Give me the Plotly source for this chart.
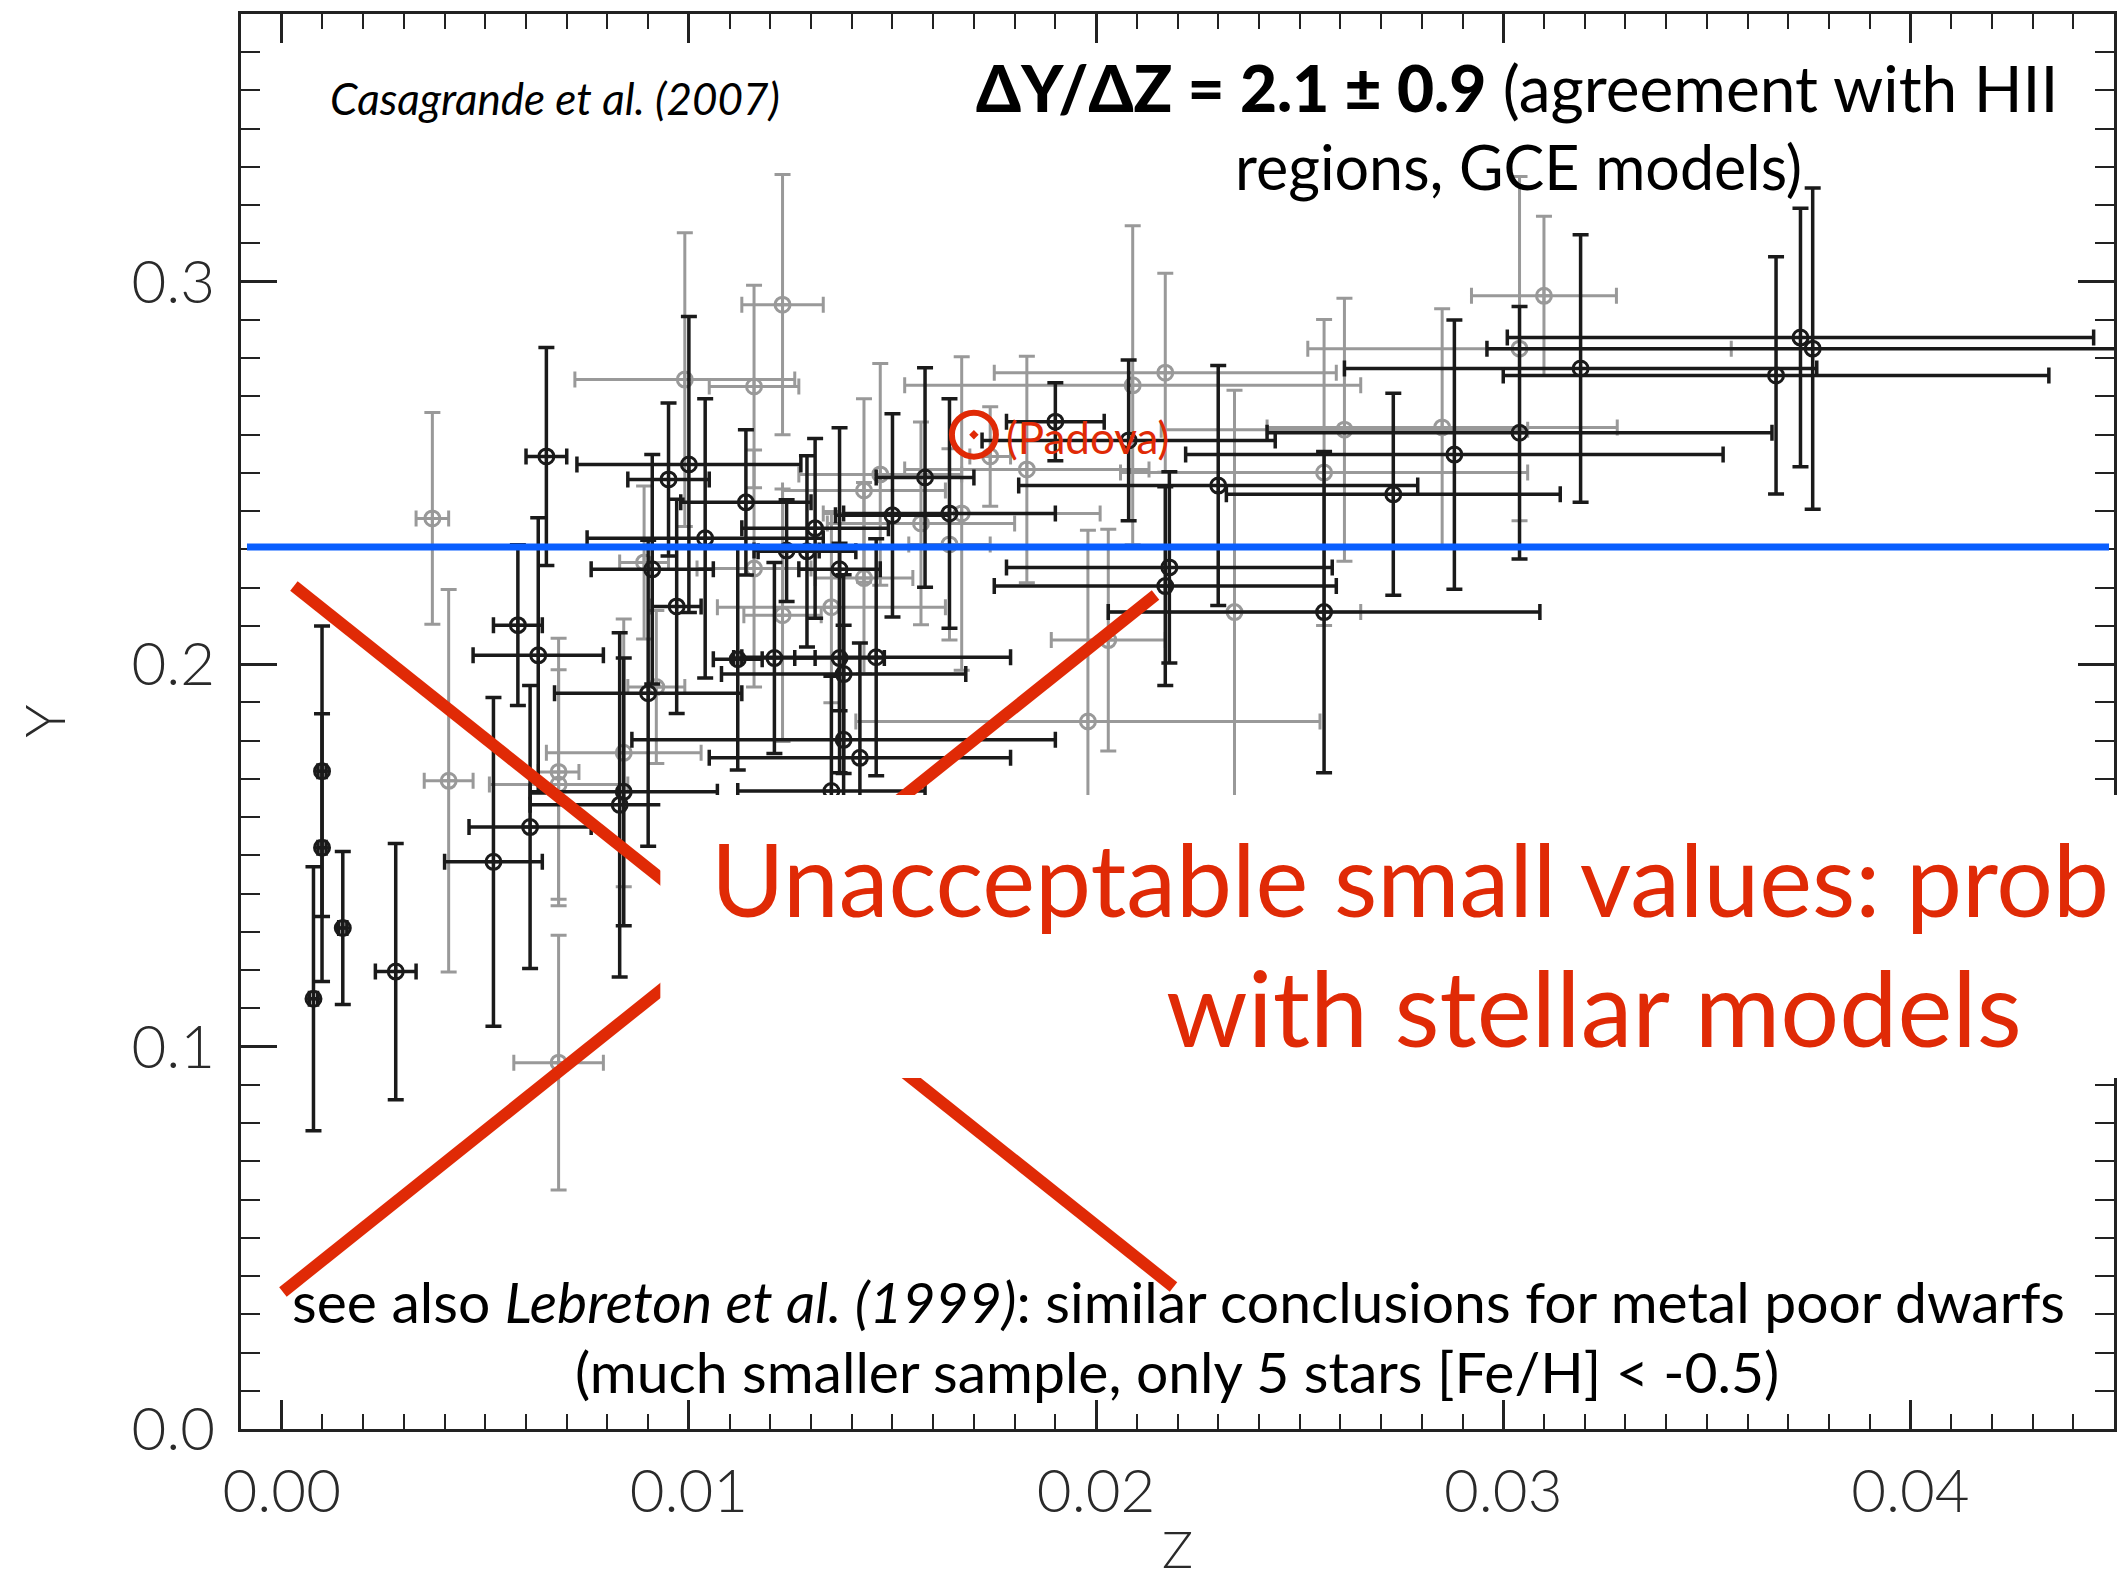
import plotly.graph_objects as go

# ---------------- data: helium abundance Y versus metallicity Z ----------------
# first sub-sample (black symbols)
black_z = [0.00078, 0.00099, 0.00099, 0.0015, 0.0028, 0.0052, 0.0061, 0.0063, 0.0065, 0.0058,
           0.0083, 0.0084, 0.0090, 0.0112, 0.0100, 0.0095, 0.0114, 0.0104, 0.0091, 0.0097,
           0.0121, 0.0131, 0.0129, 0.0124, 0.0150, 0.0158, 0.0164, 0.0190, 0.0208, 0.0230,
           0.0218, 0.0217, 0.0137, 0.0137, 0.0146, 0.0138, 0.0138, 0.0142, 0.0135, 0.0256,
           0.0273, 0.0288, 0.0304, 0.0319, 0.0367, 0.0373, 0.0376]
black_y = [0.1125, 0.172, 0.152, 0.131, 0.1196, 0.1483, 0.1574, 0.2023, 0.2543, 0.2102,
           0.1632, 0.1666, 0.1924, 0.2013, 0.2522, 0.2483, 0.2423, 0.2329, 0.2248, 0.2151,
           0.2016, 0.2355, 0.2295, 0.2297, 0.2389, 0.2488, 0.2394, 0.2634, 0.2585, 0.2467,
           0.2253, 0.2204, 0.2248, 0.2016, 0.2018, 0.1974, 0.1802, 0.1755, 0.1668, 0.2136,
           0.2444, 0.2548, 0.2605, 0.2773, 0.2755, 0.2854, 0.2825]
black_dz = [0.0001, 0.0001, 0.0001, 0.0001, 0.0005, 0.0012, 0.0015, 0.0016, 0.0005, 0.0006,
            0.0022, 0.0023, 0.0023, 0.0006, 0.00275, 0.0010, 0.0016, 0.0029, 0.0015, 0.0006,
            0.0010, 0.0018, 0.0012, 0.0008, 0.0014, 0.0012, 0.0026, 0.0012, 0.0036, 0.0049,
            0.0040, 0.0042, 0.0010, 0.0011, 0.0033, 0.0030, 0.0052, 0.0037, 0.0023, 0.0053,
            0.0041, 0.0066, 0.0062, 0.0058, 0.0067, 0.0072, 0.0080]
black_dy = [0.0345, 0.038, 0.035, 0.020, 0.0335, 0.043, 0.037, 0.036, 0.0285, 0.021,
            0.045, 0.035, 0.040, 0.029, 0.0387, 0.020, 0.019, 0.0365, 0.030, 0.028,
            0.025, 0.0235, 0.025, 0.0133, 0.0266, 0.0287, 0.030, 0.0102, 0.021, 0.0314,
            0.025, 0.026, 0.037, 0.030, 0.031, 0.026, 0.030, 0.030, 0.030, 0.042,
            0.0264, 0.0352, 0.033, 0.035, 0.031, 0.0338, 0.042]

# second sub-sample (grey symbols)
grey_z = [0.0037, 0.0041, 0.0068, 0.0068, 0.0084, 0.0068, 0.0089, 0.0092, 0.0099, 0.0116,
          0.0123, 0.0116, 0.0123, 0.0135, 0.0143, 0.0143, 0.0147, 0.0157, 0.0167, 0.0174,
          0.0183, 0.0198, 0.0203, 0.0209, 0.0217, 0.0234, 0.0256, 0.0261, 0.0285, 0.0304,
          0.0310, 0.0164]
grey_y = [0.2381, 0.1695, 0.1718, 0.1685, 0.1768, 0.0958, 0.2266, 0.1940, 0.2744, 0.2726,
          0.2940, 0.2250, 0.2128, 0.2149, 0.2225, 0.2454, 0.2496, 0.2368, 0.2394, 0.2543,
          0.2509, 0.1850, 0.2063, 0.2729, 0.2762, 0.2136, 0.2501, 0.2613, 0.2619, 0.2825,
          0.2963, 0.2313]
grey_dz = [0.0004, 0.0006, 0.0005, 0.0017, 0.0019, 0.0011, 0.0006, 0.0007, 0.0027, 0.0011,
           0.0010, 0.0014, 0.00095, 0.0028, 0.0012, 0.0020, 0.0020, 0.0023, 0.0034, 0.0005,
           0.0030, 0.0057, 0.0014, 0.0056, 0.0042, 0.0031, 0.0050, 0.0045, 0.0043, 0.0052,
           0.00178, 0.0010]
grey_dy = [0.0277, 0.050, 0.035, 0.030, 0.035, 0.0333, 0.020, 0.020, 0.0384, 0.0265,
           0.034, 0.031, 0.033, 0.025, 0.025, 0.024, 0.029, 0.0265, 0.041, 0.013,
           0.0296, 0.050, 0.029, 0.0417, 0.026, 0.058, 0.040, 0.0344, 0.031, 0.045,
           0.0208, 0.025]

# solar calibration point (Padova models) and the primordial helium level
sun_z = 0.017
sun_y = 0.260
y_primordial = 0.2306

x_ticks = [0.00, 0.01, 0.02, 0.03, 0.04]
x_tick_labels = ["0.00", "0.01", "0.02", "0.03", "0.04"]
y_ticks = [0.0, 0.1, 0.2, 0.3]
y_tick_labels = ["0.0", "0.1", "0.2", "0.3"]

# ---------------- page geometry ----------------
W, H = 2120, 1580
ML, MR, MT, MB = 241, 3, 14, 151
PW, PH = W - ML - MR, H - MT - MB


def px(x):
    """pixel column -> paper x"""
    return (x - ML) / PW


def py(y):
    """pixel row -> paper y"""
    return (MT + PH - y) / PH


RED = "#E02A06"
BLUE = "#0A5FFF"
INK = "#1a1a1a"
GREY = "#999999"
TEXT_FONT = "Lato"
AXIS_FONT = dict(family=TEXT_FONT, size=60, color="#2a2a2a", weight=300)

fig = go.Figure()

fig.add_trace(go.Scatter(
    x=grey_z, y=grey_y, mode="markers",
    marker=dict(symbol="circle-cross-open", size=15, color=GREY, line=dict(width=3, color=GREY)),
    error_x=dict(type="data", array=grey_dz, color=GREY, thickness=3, width=8),
    error_y=dict(type="data", array=grey_dy, color=GREY, thickness=3, width=8),
    hoverinfo="skip", showlegend=False,
))
fig.add_trace(go.Scatter(
    x=black_z, y=black_y, mode="markers",
    marker=dict(symbol="circle-cross-open", size=15, color=INK, line=dict(width=3, color=INK)),
    error_x=dict(type="data", array=black_dz, color=INK, thickness=3.5, width=8),
    error_y=dict(type="data", array=black_dy, color=INK, thickness=3.5, width=8),
    hoverinfo="skip", showlegend=False,
))
fig.add_trace(go.Scatter(
    x=[sun_z], y=[sun_y], mode="markers",
    marker=dict(symbol="circle-open-dot", size=44, color=RED, line=dict(width=6, color=RED)),
    hoverinfo="skip", showlegend=False,
))

shapes = [
    # primordial helium level
    dict(type="line", xref="paper", yref="y", x0=px(247), x1=px(2112),
         y0=y_primordial, y1=y_primordial, line=dict(color=BLUE, width=7), layer="above"),
    # crossing red strokes
    dict(type="line", xref="paper", yref="paper", x0=px(294), y0=py(586), x1=px(1175), y1=py(1287),
         line=dict(color=RED, width=12), layer="above"),
    dict(type="line", xref="paper", yref="paper", x0=px(283), y0=py(1292), x1=px(1157), y1=py(595),
         line=dict(color=RED, width=12), layer="above"),
    # white panel behind the red statement
    dict(type="rect", xref="paper", yref="paper", x0=px(661), x1=px(2140), y0=py(1078), y1=py(795),
         fillcolor="white", line=dict(width=0), layer="above"),
]

annotations = [
    dict(text="<i>Casagrande et al. (2007)</i>", xref="paper", yref="paper",
         x=px(328), y=py(98), xanchor="left", yanchor="middle", showarrow=False,
         font=dict(family=TEXT_FONT, size=44, color="black")),
    dict(text="<span style=\"font-weight:900\">ΔY/ΔZ = 2.1 ± 0.9</span> (agreement with HII",
         xref="paper", yref="paper",
         x=px(1519), y=py(88), xanchor="center", yanchor="middle", showarrow=False,
         font=dict(family=TEXT_FONT, size=64, color="black")),
    dict(text="regions, GCE models)", xref="paper", yref="paper",
         x=px(1521), y=py(167), xanchor="center", yanchor="middle", showarrow=False,
         font=dict(family=TEXT_FONT, size=61, color="black")),
    dict(text="Unacceptable small values: prob", xref="paper", yref="paper",
         x=px(710), y=py(878), xanchor="left", yanchor="middle", showarrow=False,
         font=dict(family=TEXT_FONT, size=100, color=RED)),
    dict(text="with stellar models", xref="paper", yref="paper",
         x=px(1165), y=py(1006), xanchor="left", yanchor="middle", showarrow=False,
         font=dict(family=TEXT_FONT, size=104, color=RED)),
    dict(text="see also <i>Lebreton et al. (1999)</i>: similar conclusions for metal poor dwarfs",
         xref="paper", yref="paper", x=px(1180), y=py(1301), xanchor="center", yanchor="middle",
         showarrow=False, font=dict(family=TEXT_FONT, size=57, color="black")),
    dict(text="(much smaller sample, only 5 stars [Fe/H] &lt; -0.5)",
         xref="paper", yref="paper", x=px(1178), y=py(1371), xanchor="center", yanchor="middle",
         showarrow=False, font=dict(family=TEXT_FONT, size=57, color="black")),
    dict(text="(Padova)", xref="x", yref="y", x=sun_z, y=sun_y, xshift=30, yshift=-2,
         xanchor="left", yanchor="middle", showarrow=False,
         font=dict(family=TEXT_FONT, size=44, color=RED)),
    # axis titles
    dict(text="Z", xref="paper", yref="paper", x=0.5, y=py(1581), xanchor="center", yanchor="bottom",
         showarrow=False, font=dict(family=TEXT_FONT, size=52, color="#2a2a2a", weight=300)),
    dict(text="Y", xref="paper", yref="paper", x=px(43), y=0.5, xanchor="center", yanchor="middle",
         textangle=-90, showarrow=False, font=dict(family=TEXT_FONT, size=56, color="#2a2a2a", weight=300)),
]

axis_common = dict(
    showline=True, linewidth=3, linecolor="#222", mirror="ticks",
    ticks="inside", tickwidth=2.5, tickcolor="#222",
    showgrid=False, zeroline=False,
    tickfont=AXIS_FONT,
)

fig.update_layout(
    width=W, height=H,
    margin=dict(l=ML, r=MR, t=MT, b=MB),
    paper_bgcolor="white", plot_bgcolor="white",
    xaxis=dict(range=[-0.001, 0.045], tickvals=x_ticks, ticktext=x_tick_labels, ticklen=29,
               ticklabelstandoff=8,
               minor=dict(dtick=0.001, tick0=0, ticks="inside", ticklen=15, tickwidth=2, tickcolor="#222"),
               **axis_common),
    yaxis=dict(range=[0, 0.37], tickvals=y_ticks, ticktext=y_tick_labels, ticklen=36,
               ticklabelstandoff=11,
               minor=dict(dtick=0.01, tick0=0, ticks="inside", ticklen=19, tickwidth=2, tickcolor="#222"),
               **axis_common),
    shapes=shapes,
    annotations=annotations,
)

fig.write_html("out.html")
